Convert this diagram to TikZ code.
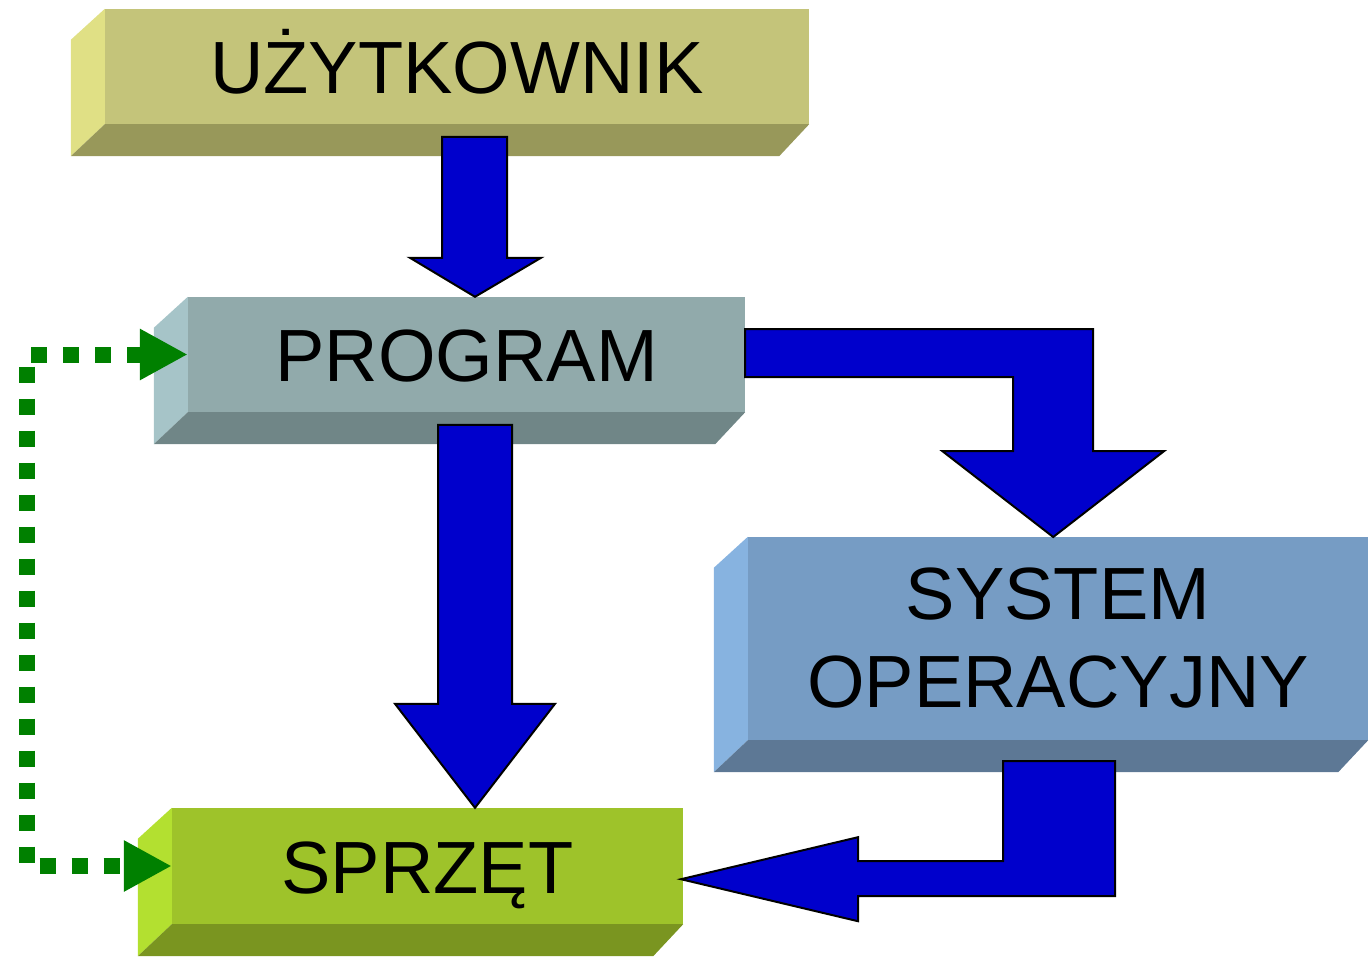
\documentclass[tikz,border=0pt]{standalone}
\usepackage{fontspec}
\setmainfont{Liberation Sans}
\usetikzlibrary{calc,arrows.meta}

\definecolor{userfront}{HTML}{C4C47A}
\definecolor{userleft}{HTML}{E0E085}
\definecolor{userbottom}{HTML}{98985A}
\definecolor{progfront}{HTML}{91AAAB}
\definecolor{progleft}{HTML}{A6C4C8}
\definecolor{progbottom}{HTML}{708687}
\definecolor{sysfront}{HTML}{769CC4}
\definecolor{sysleft}{HTML}{87B3E0}
\definecolor{sysbottom}{HTML}{5D7895}
\definecolor{hwfront}{HTML}{9EC32A}
\definecolor{hwleft}{HTML}{B3E030}
\definecolor{hwbottom}{HTML}{7A9520}
\definecolor{arrowblue}{HTML}{0000CC}
\definecolor{dotgreen}{HTML}{008000}

% left and bottom faces of a box node
\newcommand\bevel[3]{%
  \fill[#2] (#1.north west) -- ++(-34,31) -- ($(#1.south west)+(-34,32)$) -- (#1.south west) -- cycle;
  \fill[#3] (#1.south west) -- (#1.south east) -- ++(-30,32) -- ($(#1.south west)+(-34,32)$) -- cycle;}

\begin{document}
\begin{tikzpicture}[x=1pt,y=-1pt,
  boxstyle/.style={
    rectangle,
    inner sep=0pt,
    align=center,
    font=\fontsize{74}{88}\selectfont,
  },
  captext/.style={text height=54pt,text depth=0pt},
  blockarrow/.style={
    fill=arrowblue,
    draw=black,
    line width=2pt,
    line join=miter,
  },
  dotline/.style={
    draw=dotgreen,
    line width=16pt,
    dash pattern=on 16pt off 16pt,
    {Triangle[length=48pt,width=48pt]}-{Triangle[length=48pt,width=48pt]},
  }]
\useasboundingbox (0,0) rectangle (1371,956);
\node[boxstyle,captext,fill=userfront,minimum width=704,minimum height=115] (user) at (457,66.5) {UŻYTKOWNIK};
\node[boxstyle,captext,fill=progfront,minimum width=557,minimum height=115] (prog) at (466.5,354.5) {PROGRAM};
\node[boxstyle,fill=sysfront,minimum width=620,minimum height=203] (sys) at (1058,638.5) {SYSTEM\\OPERACYJNY};
\node[boxstyle,captext,fill=hwfront,minimum width=511,minimum height=116] (hw) at (427.5,866) {SPRZĘT};
\bevel{user}{userleft}{userbottom}
\bevel{prog}{progleft}{progbottom}
\bevel{sys}{sysleft}{sysbottom}
\bevel{hw}{hwleft}{hwbottom}
% block arrows
\draw[blockarrow] (475,0 |- prog.north) -- ++(66,-39) -- ++(-34,0) -- ++(0,-121)
  -- ++(-65,0) -- ++(0,121) -- ++(-32,0) -- cycle;
\draw[blockarrow] (475,0 |- hw.north) -- ++(80,-104) -- ++(-43,0) -- ++(0,-279)
  -- ++(-74,0) -- ++(0,279) -- ++(-43,0) -- cycle;
\draw[blockarrow] ($(prog.east)+(0,-25.5)$) -- ++(348,0) -- ++(0,122) -- ++(71,0)
  -- ++(-111,86) -- ++(-111,-86) -- ++(71,0) -- ++(0,-74) -- ++(-268,0) -- cycle;
\draw[blockarrow] ($(sys.south)+(57,21)$) -- ++(0,135) -- ++(-257,0) -- ++(0,25)
  -- ++(-177,-42) -- ++(177,-42) -- ++(0,24) -- ++(145,0) -- ++(0,-100) -- cycle;
% dotted feedback
\draw[dotline] (prog.west) -- (27,0 |- prog.west) |- (hw.west);
\end{tikzpicture}
\end{document}
